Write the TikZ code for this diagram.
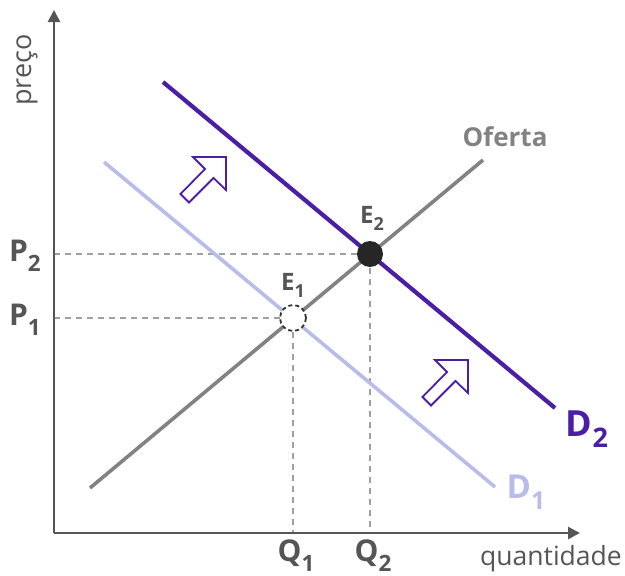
\documentclass[tikz,border=0pt]{standalone}
\usepackage{fontspec}
\setmainfont{Open Sans}
\usetikzlibrary{arrows.meta}
\definecolor{axisgray}{HTML}{555555}
\definecolor{supgray}{HTML}{828282}
\definecolor{dashgray}{HTML}{A0A0A0}
\definecolor{dtwo}{HTML}{4A1FA6}
\definecolor{done}{HTML}{B9BCEA}
\definecolor{lblgray}{HTML}{555555}
\newcommand{\sbx}[1]{\raisebox{-0.32em}{\scalebox{0.75}{#1}}}
\begin{document}
\begin{tikzpicture}[x=1pt,y=-1pt,
  axisline/.style={draw=axisgray,line width=2.6pt,-{Triangle[length=12pt,width=12pt]}},
  guide/.style={draw=dashgray,line width=1.9pt,dash pattern=on 6pt off 5pt},
  axlbl/.style={text=lblgray,font=\bfseries\fontsize{30}{32}\selectfont,inner sep=0pt},
  ptlbl/.style={text=lblgray,font=\bfseries\fontsize{24}{26}\selectfont,inner sep=0pt},
  blockarrow/.style={draw=dtwo,fill=white,line width=1.8pt,line join=miter}]
\useasboundingbox (0,0) rectangle (625,576);
% coordinates
\coordinate (O) at (54,533);
\coordinate (ytop) at (54,10);
\coordinate (xend) at (580,533);
\coordinate (s0) at (90,488);
\coordinate (s1) at (483,160);
\coordinate (da) at (104,162);
\coordinate (db) at (495,487);
\coordinate (ea) at (163,82);
\coordinate (eb) at (555,408);
\coordinate (p1) at (54,318);
\coordinate (p2) at (54,254);
\coordinate (q1) at (293,533);
\coordinate (q2) at (370,533);
% dashed guides
\draw[guide] (p2) -- (370,254) coordinate (g2) -- (q2);
\draw[guide] (p1) -- (293,318) coordinate (g1) -- (q1);
% curves
\draw[done,line width=3.6pt] (da) -- (db);
\draw[supgray,line width=3.6pt] (s0) -- (s1);
\draw[dtwo,line width=4.2pt] (ea) -- (eb);
% axes
\draw[axisline] (O) -- (ytop);
\draw[axisline] (O) -- (xend);
% equilibrium points
\node[circle,draw=black!80,fill=white,line width=1.8pt,dash pattern=on 4pt off 3pt,minimum size=26pt,inner sep=0pt] (E1) at (293,318) {};
\node[circle,fill=black!85,minimum size=26pt,inner sep=0pt] (E2) at (370,254) {};
% block arrows
\draw[blockarrow] (226,157) -- (193,157) -- (205,169) -- (180.5,194) -- (189,202.5) -- (213.5,178) -- (226,190) -- cycle;
\begin{scope}[shift={(242,203)}]
\draw[blockarrow] (226,157) -- (193,157) -- (205,169) -- (180.5,194) -- (189,202.5) -- (213.5,178) -- (226,190) -- cycle;
\end{scope}
% labels
\node[axlbl,anchor=east] (lp2) at (41,256) {P\sbx{2}};
\node[axlbl,anchor=east] (lp1) at (41,320) {P\sbx{1}};
\node[axlbl,anchor=north] (lq1) at (296,540) {Q\sbx{1}};
\node[axlbl,anchor=north] (lq2) at (373,540) {Q\sbx{2}};
\node[ptlbl,anchor=south] (le1) at (293,298) {E\sbx{1}};
\node[ptlbl,anchor=south] (le2) at (372,231) {E\sbx{2}};
\node[text=supgray,font=\bfseries\fontsize{26}{28}\selectfont,inner sep=0pt] (lof) at (505,137) {Oferta};
\node[text=dtwo,font=\bfseries\fontsize{36}{38}\selectfont,inner sep=0pt] (ld2) at (587,429) {D\sbx{2}};
\node[text=done,font=\bfseries\fontsize{33}{35}\selectfont,inner sep=0pt] (ld1) at (526,492) {D\sbx{1}};
\node[text=axisgray,font=\fontsize{26.5}{28}\selectfont,inner sep=0pt,anchor=east] (lqt) at (622,559) {quantidade};
\node[text=axisgray,font=\fontsize{27}{29}\selectfont,inner sep=0pt,rotate=90,anchor=center] (lpr) at (27,70) {preço};
\end{tikzpicture}
\end{document}
